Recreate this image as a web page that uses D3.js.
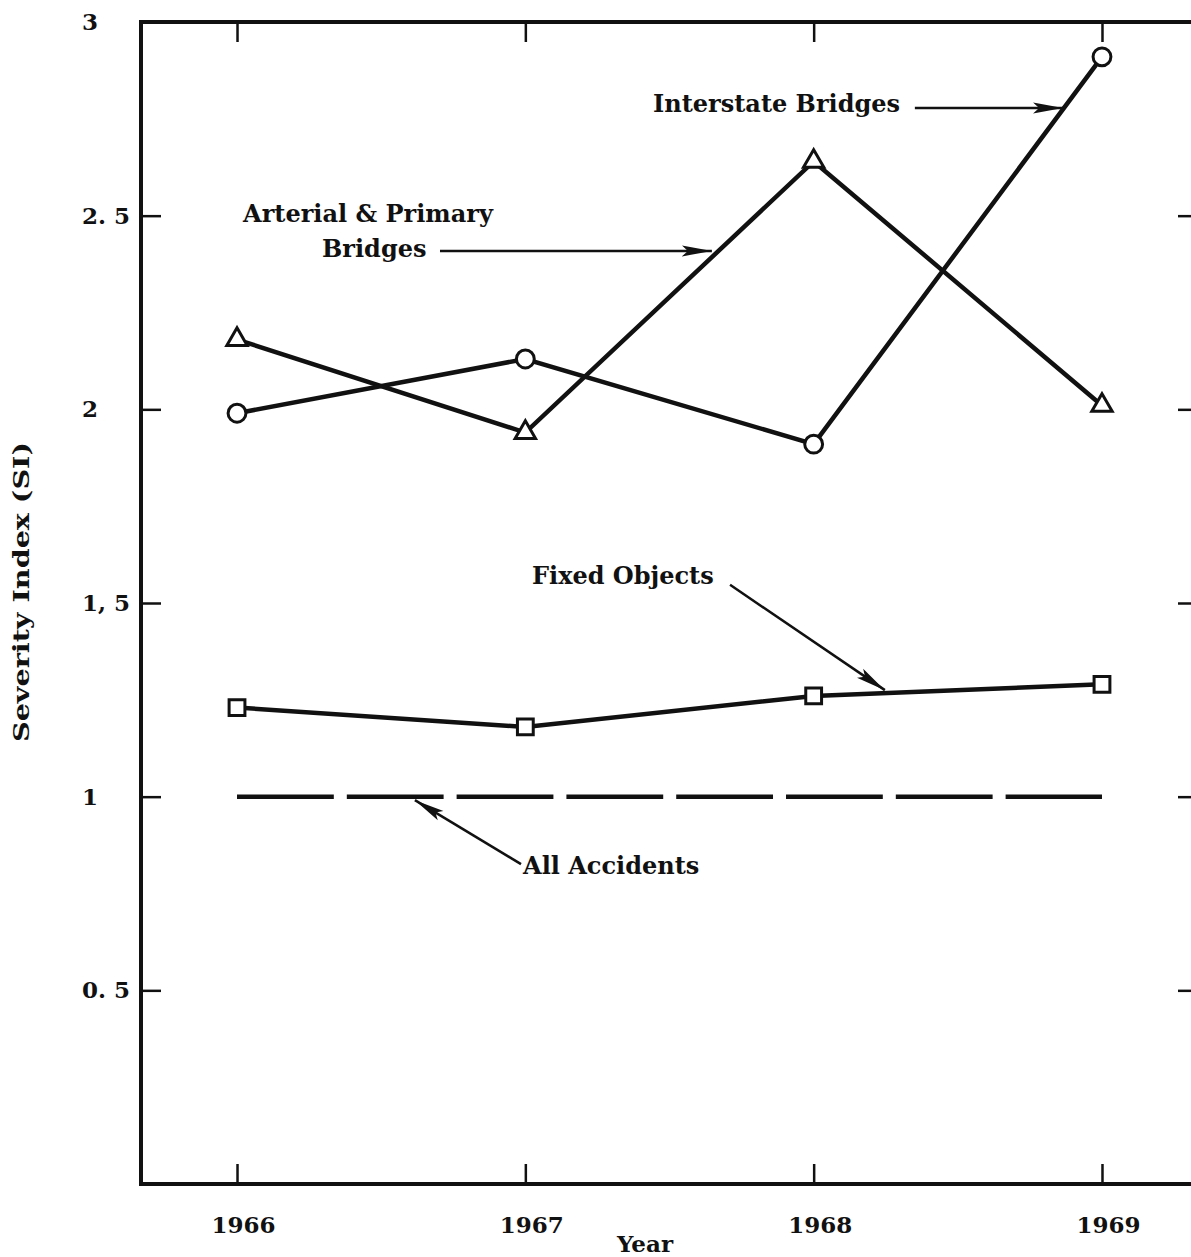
<!DOCTYPE html>
<html>
<head>
<meta charset="utf-8">
<script src="https://cdn.jsdelivr.net/npm/d3@7"></script>
<style>
  body { margin: 0; background: #fff; }
  svg text { font-family: "DejaVu Serif", serif; font-weight: bold; fill: #111; }
</style>
</head>
<body>
<div id="container"></div>
<script>
/* data */
var years = [1966, 1967, 1968, 1969];
var interstateBridges = [1.99, 2.13, 1.91, 2.91];
var arterialBridges = [2.18, 1.94, 2.64, 2.01];
var fixedObjects = [1.23, 1.18, 1.26, 1.29];
var allAccidents = [1, 1, 1, 1];

var yTicks = [0.5, 1, 1.5, 2, 2.5, 3];
var yTickLabels = ["0. 5", "1", "1, 5", "2", "2. 5", "3"];

/* annotation anchors, in data units (year, SI) */
var notes = [
  { lines: ["Interstate Bridges"], at: [1967.443, 2.768], from: [1968.351, 2.778], to: [1968.865, 2.778] },
  { lines: ["Arterial & Primary", "Bridges"], at: [1966.021, 2.484], indent: [0, 1966.295], from: [1966.704, 2.409], to: [1967.647, 2.409] },
  { lines: ["Fixed Objects"], at: [1967.023, 1.549], from: [1967.71, 1.547], to: [1968.247, 1.275] },
  { lines: ["All Accidents"], at: [1966.992, 0.800], from: [1966.985, 0.826], to: [1966.617, 0.991] }
];

/* setup the dimensions (plot frame runs a little past the right edge) */
var W = 1191, H = 1257;
var plot = { left: 141, right: 1198, top: 22, bottom: 1184 };

var x = d3.scaleLinear()
          .domain([1965.667, 1969.333])
          .range([plot.left, plot.right]);
var y = d3.scaleLinear()
          .domain([0, 3])
          .range([plot.bottom, plot.top]);

var svg = d3.select("#container")
            .append("svg")
            .attr("width", W)
            .attr("height", H);

var defs = svg.append("defs");
defs.append("marker")
    .attr("id", "head")
    .attr("markerUnits", "userSpaceOnUse")
    .attr("viewBox", "0 -6 30 12")
    .attr("refX", 30).attr("refY", 0)
    .attr("markerWidth", 30).attr("markerHeight", 12)
    .attr("orient", "auto")
  .append("path")
    .attr("d", "M0,-5.5L30,0L0,5.5L6,0Z")
    .attr("fill", "#111");

/* axes: ticks point inward, frame drawn separately */
var axisStyle = function(g) {
  g.select(".domain").remove();
  g.selectAll(".tick line").attr("stroke", "#111").attr("stroke-width", 2.5);
};

svg.append("g")
   .attr("transform", "translate(" + plot.left + ",0)")
   .call(d3.axisLeft(y).tickValues(yTicks).tickSize(-20)
           .tickFormat(function(d, i) { return yTickLabels[i]; }))
   .call(axisStyle)
   .call(function(g) {
     g.selectAll(".tick text")
      .attr("x", -59).attr("text-anchor", "start")
      .attr("font-size", 23).attr("font-family", null);
   });

svg.append("g")
   .attr("transform", "translate(" + plot.right + ",0)")
   .call(d3.axisRight(y).tickValues(yTicks).tickSize(-20).tickFormat(""))
   .call(axisStyle);

svg.append("g")
   .attr("transform", "translate(0," + plot.bottom + ")")
   .call(d3.axisBottom(x).tickValues(years).tickSize(-20).tickFormat(d3.format("d")))
   .call(axisStyle)
   .call(function(g) {
     g.selectAll(".tick text")
      .attr("y", 33).attr("dx", 6)
      .attr("font-size", 23).attr("font-family", null);
   });

svg.append("g")
   .attr("transform", "translate(0," + plot.top + ")")
   .call(d3.axisTop(x).tickValues(years).tickSize(-20).tickFormat(""))
   .call(axisStyle);

svg.append("rect")
   .attr("x", plot.left).attr("y", plot.top)
   .attr("width", plot.right - plot.left).attr("height", plot.bottom - plot.top)
   .attr("fill", "none")
   .attr("stroke", "#111")
   .attr("stroke-width", 4);

/* axis titles */
svg.append("text")
   .attr("transform", "translate(29,592) rotate(-90)")
   .attr("text-anchor", "middle")
   .attr("font-size", 23)
   .attr("textLength", 300)
   .attr("lengthAdjust", "spacingAndGlyphs")
   .text("Severity Index (SI)");

svg.append("text")
   .attr("x", 645).attr("y", 1252)
   .attr("text-anchor", "middle")
   .attr("font-size", 23)
   .text("Year");

/* series */
var line = d3.line()
             .x(function(d) { return x(d[0]); })
             .y(function(d) { return y(d[1]); });

function pairs(vals) {
  return years.map(function(yr, i) { return [yr, vals[i]]; });
}

svg.append("path")
   .datum(pairs(allAccidents))
   .attr("d", line)
   .attr("fill", "none")
   .attr("stroke", "#111")
   .attr("stroke-width", 4.5)
   .attr("stroke-dasharray", "96.8,13");

var series = [
  { vals: fixedObjects, sym: d3.symbolSquare, size: 250 },
  { vals: arterialBridges, sym: d3.symbolTriangle, size: 180 },
  { vals: interstateBridges, sym: d3.symbolCircle, size: 250 }
];

series.forEach(function(s) {
  svg.append("path")
     .datum(pairs(s.vals))
     .attr("d", line)
     .attr("fill", "none")
     .attr("stroke", "#111")
     .attr("stroke-width", 4.5);
});

series.forEach(function(s) {
  svg.selectAll(null)
     .data(pairs(s.vals))
     .enter().append("path")
       .attr("transform", function(d) { return "translate(" + x(d[0]) + "," + y(d[1]) + ")"; })
       .attr("d", d3.symbol().type(s.sym).size(s.size))
       .attr("fill", "#fff")
       .attr("stroke", "#111")
       .attr("stroke-width", 3);
});

/* annotations */
notes.forEach(function(n) {
  n.lines.forEach(function(t, i) {
    var tx = (n.indent && n.indent[i]) ? n.indent[i] : n.at[0];
    svg.append("text")
       .attr("x", x(tx))
       .attr("y", y(n.at[1]) + i * 35)
       .attr("font-size", 24)
       .text(t);
  });
  svg.append("line")
     .attr("x1", x(n.from[0])).attr("y1", y(n.from[1]))
     .attr("x2", x(n.to[0])).attr("y2", y(n.to[1]))
     .attr("stroke", "#111")
     .attr("stroke-width", 2.5)
     .attr("marker-end", "url(#head)");
});
</script>
</body>
</html>
